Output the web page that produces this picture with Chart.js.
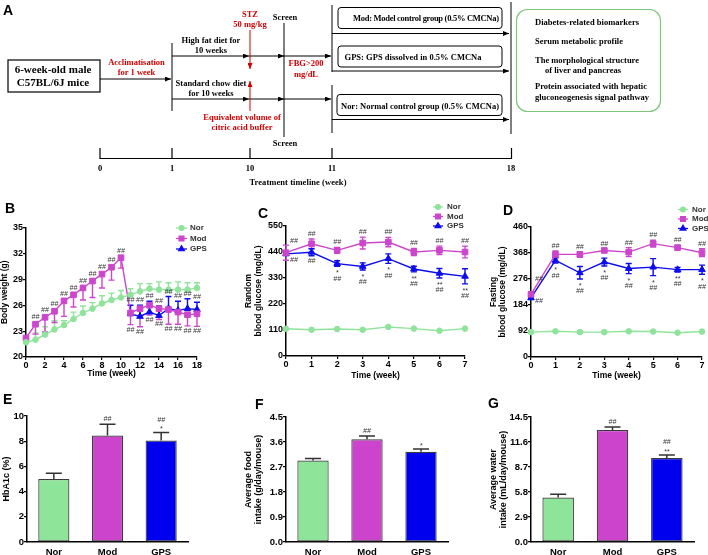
<!DOCTYPE html>
<html lang="en">
<head>
<meta charset="UTF-8" />
<title>GPS in diabetic mice</title>
<script src="https://cdn.jsdelivr.net/npm/chart.js"></script>
<style>
  body { margin: 0; width: 708px; height: 555px; position: relative; background: #fff; overflow: hidden; }
  canvas { position: absolute; }
  #art { position: absolute; left: 0; top: 0; pointer-events: none; }
</style>
</head>
<body>

<canvas id="chartB" width="235" height="190" style="left:0;top:190px"></canvas>
<canvas id="chartC" width="235" height="190" style="left:235px;top:190px"></canvas>
<canvas id="chartD" width="238" height="190" style="left:470px;top:190px"></canvas>
<canvas id="chartE" width="235" height="175" style="left:0;top:380px"></canvas>
<canvas id="chartF" width="235" height="175" style="left:235px;top:380px"></canvas>
<canvas id="chartG" width="238" height="175" style="left:470px;top:380px"></canvas>

<!-- Panel A (study design) + panel letters -->
<svg id="art" width="708" height="555" viewBox="0 0 708 555">
  <defs>
    <marker id="ah" markerUnits="userSpaceOnUse" markerWidth="6" markerHeight="5" refX="6" refY="2.5" orient="auto">
      <path d="M0,0 L6,2.5 L0,5 z" fill="#000"/>
    </marker>
    <marker id="ahr" markerUnits="userSpaceOnUse" markerWidth="6" markerHeight="5" refX="6" refY="2.5" orient="auto">
      <path d="M0,0 L6,2.5 L0,5 z" fill="#d00000"/>
    </marker>
  </defs>

  <g font-family="'Liberation Sans', Arial, sans-serif" font-weight="bold" font-size="14">
    <text x="3" y="15">A</text>
    <text x="5" y="213">B</text>
    <text x="258" y="218">C</text>
    <text x="503" y="215">D</text>
    <text x="3" y="404">E</text>
    <text x="255" y="409">F</text>
    <text x="488" y="408">G</text>
  </g>

  <g font-family="'Liberation Serif', 'Times New Roman', serif" font-weight="bold" font-size="8.5" text-anchor="middle" stroke-width="1">
    <rect x="8" y="60" width="92" height="32" fill="none" stroke="#000" stroke-width="1.2"/>
    <text x="53" y="73" font-size="11">6-week-old male</text>
    <text x="53" y="86" font-size="11">C57BL/6J mice</text>
    <line x1="100" y1="79" x2="171" y2="79" stroke="#000" marker-end="url(#ah)"/>
    <text x="136.5" y="65" fill="#d00000">Acclimatisation</text>
    <text x="136.5" y="75" fill="#d00000">for 1 week</text>

    <line x1="172" y1="43" x2="172" y2="111" stroke="#000"/>
    <line x1="172" y1="56" x2="249" y2="56" stroke="#000" marker-end="url(#ah)"/>
    <line x1="249" y1="56" x2="284" y2="56" stroke="#000" marker-end="url(#ah)"/>
    <line x1="284" y1="56" x2="331" y2="56" stroke="#000" marker-end="url(#ah)"/>
    <line x1="172" y1="99" x2="249" y2="99" stroke="#000" marker-end="url(#ah)"/>
    <line x1="249" y1="99" x2="284" y2="99" stroke="#000" marker-end="url(#ah)"/>
    <line x1="284" y1="99" x2="331" y2="99" stroke="#000" marker-end="url(#ah)"/>
    <text x="211" y="43">High fat diet for</text>
    <text x="211" y="53">10 weeks</text>
    <text x="211" y="86">Standard chow diet</text>
    <text x="211" y="96">for 10 weeks</text>

    <text x="250" y="16.5" fill="#d00000">STZ</text>
    <text x="250" y="27" fill="#d00000">50 mg/kg</text>
    <line x1="250" y1="30" x2="250" y2="69" stroke="#d00000" marker-end="url(#ahr)"/>
    <line x1="250" y1="111" x2="250" y2="81" stroke="#d00000" marker-end="url(#ahr)"/>
    <text x="242" y="120" fill="#d00000">Equivalent volume of</text>
    <text x="242" y="130" fill="#d00000">citric acid buffer</text>

    <text x="285" y="19.5">Screen</text>
    <line x1="284" y1="23" x2="284" y2="137" stroke="#000"/>
    <text x="285" y="145.5">Screen</text>
    <text x="306" y="66" fill="#d00000">FBG&gt;200</text>
    <text x="306" y="76.5" fill="#d00000">mg/dL</text>

    <line x1="332" y1="5" x2="332" y2="72" stroke="#000"/>
    <line x1="332" y1="85" x2="332" y2="133" stroke="#000"/>
    <rect x="338" y="7.5" width="164" height="21" rx="3" fill="none" stroke="#000"/>
    <text x="426" y="21" textLength="146">Mod: Model control group (0.5% CMCNa)</text>
    <line x1="332" y1="33.5" x2="509" y2="33.5" stroke="#000" marker-end="url(#ah)"/>
    <rect x="338" y="46" width="164" height="21" rx="3" fill="none" stroke="#000"/>
    <text x="413" y="60" textLength="137">GPS: GPS dissolved in 0.5% CMCNa</text>
    <line x1="332" y1="71" x2="509" y2="71" stroke="#000" marker-end="url(#ah)"/>
    <rect x="337" y="94.5" width="165" height="21" rx="3" fill="none" stroke="#000"/>
    <text x="420" y="108.5" textLength="158">Nor: Normal control group (0.5% CMCNa)</text>
    <line x1="332" y1="119.5" x2="509" y2="119.5" stroke="#000" marker-end="url(#ah)"/>
    <line x1="511" y1="2" x2="511" y2="134" stroke="#000"/>

    <rect x="516.5" y="9.5" width="144" height="102" rx="11" fill="none" stroke="#7cc77c" stroke-width="1.2"/>
    <g text-anchor="start">
      <text x="535" y="25" textLength="104">Diabetes-related biomarkers</text>
      <text x="535" y="44" textLength="88">Serum metabolic profile</text>
      <text x="535" y="62.5" textLength="104">The morphological structure</text>
      <text x="545" y="72.5" textLength="76">of liver and pancreas</text>
      <text x="535" y="89" textLength="112">Protein associated with hepatic</text>
      <text x="535" y="100" textLength="114">gluconeogenesis signal pathway</text>
    </g>

    <polyline points="100,148 100,158.5 511.5,158.5 511.5,148" fill="none" stroke="#000" stroke-width="1.2"/>
    <line x1="172" y1="148" x2="172" y2="158.5" stroke="#000" stroke-width="1.2"/>
    <line x1="250" y1="148" x2="250" y2="158.5" stroke="#000" stroke-width="1.2"/>
    <line x1="332" y1="148" x2="332" y2="158.5" stroke="#000" stroke-width="1.2"/>
    <text x="100" y="170.5">0</text>
    <text x="172" y="170.5">1</text>
    <text x="250" y="170.5">10</text>
    <text x="332" y="170.5">11</text>
    <text x="511" y="170.5">18</text>
    <text x="298" y="184.5" textLength="97">Treatment timeline (week)</text>
  </g>
</svg>

<script>
// ---- B: body weight (g), weeks 0-18 ----
const bWeeks = [0, 1, 2, 3, 4, 5, 6, 7, 8, 9, 10, 11, 12, 13, 14, 15, 16, 17, 18];
const bNor = [21.7, 22.0, 22.6, 23.2, 23.7, 24.4, 25.1, 25.6, 26.2, 26.6, 26.9, 27.2, 27.6, 27.9, 27.8, 27.8, 27.8, 27.8, 28.0];
const bNorErr = [0.5, 0.8, 0.9, 1.0, 0.5, 0.8, 0.8, 0.7, 0.9, 0.8, 0.8, 0.7, 0.9, 0.6, 0.9, 0.8, 0.9, 0.8, 0.6];
const bMod = [22.2, 23.8, 24.6, 25.3, 26.5, 27.2, 28.0, 28.8, 29.6, 30.4, 31.5, 25.1, 25.6, 26.0, 25.6, 25.5, 25.2, 24.9, 25.0];
const bModErr = [0.4, 1.15, 1.7, 1.3, 1.8, 1.4, 1.4, 1.9, 1.6, 1.5, 1.2, 1.35, 2.1, 1.15, 1.25, 1.7, 1.4, 1.3, 1.45];
const bGps = [null, null, null, null, null, null, null, null, null, null, null, 25.0, 24.7, 25.2, 24.8, 25.6, 25.4, 25.6, 25.5];
const bGpsErr = [0, 0, 0, 0, 0, 0, 0, 0, 0, 0, 0, 1.0, 1.3, 1.25, 1.1, 1.4, 1.05, 1.15, 0.85];
const bModAbove = ['', '##', '##', '##', '##', '##', '##', '##', '##', '##', '##', '', '', '', '', '', '', '', ''];
const bModBelow = ['', '', '', '', '', '', '', '', '', '', '', '##', '##', '##', '##', '##', '##', '##', '##'];
const bGpsAbove = ['', '', '', '', '', '', '', '', '', '', '', '##', '##', '##', '##', '##', '##', '##', '##'];
const bXTicks = [0, 2, 4, 6, 8, 10, 12, 14, 16, 18];
const bYTicks = [20, 23, 26, 29, 32, 35];

// ---- C: random blood glucose (mg/dL), weeks 0-7 ----
const cWeeks = [0, 1, 2, 3, 4, 5, 6, 7];
const cNor = [115, 111, 114, 111, 123, 116, 107, 116];
const cMod = [437, 475, 447, 478, 482, 440, 447, 440];
const cModErr = [32, 20, 12, 25, 20, 15, 18, 25];
const cGps = [432, 439, 391, 379, 412, 368, 350, 337];
const cGpsErr = [6, 15, 12, 15, 20, 12, 20, 32];
const cModAbove = ['', '##', '##', '##', '##', '##', '##', '##'];
const cGpsBelow = ['', '##', '*\n##', '*\n##', '*\n##', '**\n##', '**\n##', '**\n##'];
const cXTicks = [0, 1, 2, 3, 4, 5, 6, 7];
const cYTicks = [0, 110, 220, 330, 440, 550];

// ---- D: fasting blood glucose (mg/dL), weeks 0-7 ----
const dWeeks = [0, 1, 2, 3, 4, 5, 6, 7];
const dNor = [88, 91, 88, 88, 91, 90, 86, 90];
const dMod = [222, 363, 363, 377, 371, 401, 387, 369];
const dModErr = [8, 12, 10, 6, 16, 12, 8, 14];
const dGps = [209, 342, 298, 336, 313, 318, 309, 309];
const dGpsErr = [4, 10, 22, 14, 18, 30, 8, 16];
const dModAbove = ['', '##', '##', '##', '##', '##', '##', '##'];
const dGpsBelow = ['', '*\n##', '*\n##', '*\n##', '*\n##', '*\n##', '**\n##', '*\n##'];
const dXTicks = [0, 1, 2, 3, 4, 5, 6, 7];
const dYTicks = [0, 92, 184, 276, 368, 460];

// ---- E/F/G: bar panels ----
const groups = ['Nor', 'Mod', 'GPS'];
const eMeans = [5.0, 8.45, 8.05];
const eErr = [0.45, 0.9, 0.65];
const eMarks = ['', '##', '##\n*'];
const eTicks = [0, 2, 4, 6, 8, 10];
const fMeans = [2.93, 3.70, 3.25];
const fErr = [0.08, 0.12, 0.10];
const fMarks = ['', '##', '*'];
const fTicks = [0, 0.9, 1.8, 2.7, 3.6, 4.5];
const gMeans = [5.15, 13.0, 9.75];
const gErr = [0.4, 0.35, 0.35];
const gMarks = ['', '##', '##\n**'];
const gTicks = [0, 2.9, 5.8, 8.7, 11.6, 14.5];

const FONT = "'Liberation Sans', Arial, sans-serif";
const GREEN = '#8fe39b', MAGENTA = '#cc46cc', BLUE = '#0c0cee';

const legendPos = {
  chartB: { x: 176, y: 38, dy: 10.5, len: 11, tx: 190 },
  chartC: { x: 198, y: 17, dy: 9.5, len: 10, tx: 212 },
  chartD: { x: 208, y: 19.5, dy: 9.5, len: 10, tx: 222 }
};

function valueAt(ds, i) {
  const d = ds.data[i];
  if (d === null || d === undefined) return null;
  return typeof d === 'object' ? d.y : d;
}

function drawErrors(chart) {
  const ctx = chart.ctx, ys = chart.scales.y;
  chart.data.datasets.forEach((ds, di) => {
    if (!ds.errors) return;
    const meta = chart.getDatasetMeta(di);
    ctx.save();
    ctx.strokeStyle = ds.errColor || ds.borderColor;
    ctx.lineWidth = ds.errWidth || 1.4;
    meta.data.forEach((el, i) => {
      const v = valueAt(ds, i), e = ds.errors[i];
      if (v === null || !e) return;
      const dir = Array.isArray(ds.errDir) ? ds.errDir[i] : ds.errDir;
      const x = el.x, cap = ds.capHalf || 3;
      let top = ys.getPixelForValue(v), bot = top;
      if (dir !== 'down') top = ys.getPixelForValue(v + e);
      if (dir !== 'up' && chart.config.type !== 'bar') bot = ys.getPixelForValue(v - e);
      if (chart.config.type === 'bar') bot = el.y;
      ctx.beginPath();
      ctx.moveTo(x, top); ctx.lineTo(x, bot);
      if (dir !== 'down') { ctx.moveTo(x - cap, top); ctx.lineTo(x + cap, top); }
      if (dir !== 'up' && chart.config.type !== 'bar') { ctx.moveTo(x - cap, bot); ctx.lineTo(x + cap, bot); }
      ctx.stroke();
    });
    ctx.restore();
  });
}

function drawMarks(chart) {
  const ctx = chart.ctx, ys = chart.scales.y;
  ctx.save();
  ctx.font = 'italic 7px ' + FONT;
  ctx.fillStyle = '#333';
  ctx.textAlign = 'center';
  ctx.textBaseline = 'middle';
  chart.data.datasets.forEach((ds, di) => {
    const meta = chart.getDatasetMeta(di);
    meta.data.forEach((el, i) => {
      const v = valueAt(ds, i);
      if (v === null) return;
      const e = ds.errors ? ds.errors[i] || 0 : 0;
      const dir = Array.isArray(ds.errDir) ? ds.errDir[i] : ds.errDir;
      const p = ys.getPixelForValue(v);
      if (ds.marksAbove && ds.marksAbove[i]) {
        const top = (dir !== 'down' && e) ? ys.getPixelForValue(v + e) : p - 2;
        const lines = ds.marksAbove[i].split('\n');
        lines.forEach((t, k) => {
          ctx.fillText(t, el.x, top - 5 - (lines.length - 1 - k) * 7.5 + (t[0] === '*' ? 2 : 0));
        });
      }
      if (ds.marksBelow && ds.marksBelow[i]) {
        const bot = (dir !== 'up' && e) ? ys.getPixelForValue(v - e) : p + 2;
        ds.marksBelow[i].split('\n').forEach((t, k) => {
          ctx.fillText(t, el.x, bot + 5 + k * 7.5 + (t[0] === '*' ? 2 : 0));
        });
      }
      if (ds.marksSide && ds.marksSide[i]) {
        ctx.textAlign = 'left';
        ctx.fillText(ds.marksSide[i], el.x + 4, p + ds.sideDy);
        ctx.textAlign = 'center';
      }
    });
  });
  ctx.restore();
}

function drawLegend(chart) {
  const pos = legendPos[chart.canvas.id];
  if (!pos) return;
  const ctx = chart.ctx;
  ctx.save();
  chart.data.datasets.forEach((ds, i) => {
    const y = pos.y + i * pos.dy;
    ctx.strokeStyle = ds.borderColor;
    ctx.fillStyle = ds.borderColor;
    ctx.lineWidth = 1.3;
    ctx.beginPath();
    ctx.moveTo(pos.x, y); ctx.lineTo(pos.x + pos.len, y);
    ctx.stroke();
    Chart.helpers.drawPoint(ctx, { pointStyle: ds.pointStyle, rotation: 0, radius: ds.pointRadius * 0.85, borderWidth: 1 }, pos.x + pos.len / 2, y);
    ctx.fillStyle = '#333';
    ctx.font = 'bold 8px ' + FONT;
    ctx.textAlign = 'left';
    ctx.textBaseline = 'middle';
    ctx.fillText(ds.label, pos.tx, y);
  });
  ctx.restore();
}

const extras = {
  id: 'extras',
  beforeDatasetsDraw(chart) { if (chart.config.type === 'line') drawErrors(chart); },
  afterDatasetsDraw(chart) {
    if (chart.config.type === 'bar') drawErrors(chart);
    drawMarks(chart);
    drawLegend(chart);
  }
};

function yAxis(o) {
  return {
    min: o.yTicks[0], max: o.yTicks[o.yTicks.length - 1],
    afterFit(scale) { scale.width = o.yWidth; },
    afterBuildTicks(scale) { scale.ticks = o.yTicks.map(v => ({ value: v })); },
    grid: { drawOnChartArea: false, tickLength: 3, color: '#000', lineWidth: 1.2 },
    border: { color: '#000', width: 1.5 },
    ticks: {
      color: '#000', padding: 0,
      font: { family: FONT, size: o.tickSize, weight: 'bold' },
      callback: v => o.yDecimals ? v.toFixed(o.yDecimals) : String(v)
    },
    title: {
      display: true, text: o.yTitle, color: '#000',
      padding: { top: o.yTitlePad, bottom: 0 },
      font: { family: FONT, size: o.titleSize, weight: 'bold', lineHeight: 1.1 }
    }
  };
}

function series(label, weeks, values, errs, style) {
  return Object.assign({
    label: label,
    data: weeks.map((w, i) => ({ x: w, y: values[i] })),
    errors: errs,
    borderWidth: 1.4,
    pointBorderWidth: 1,
    clip: false,
    spanGaps: false
  }, style);
}

const norStyle = { borderColor: GREEN, backgroundColor: GREEN, pointBackgroundColor: GREEN, pointStyle: 'circle', pointRadius: 2.8 };
const modStyle = { borderColor: MAGENTA, backgroundColor: MAGENTA, pointBackgroundColor: MAGENTA, pointStyle: 'rect', pointRadius: 4 };
const gpsStyle = { borderColor: BLUE, backgroundColor: BLUE, pointBackgroundColor: BLUE, pointStyle: 'triangle', pointRadius: 3.8 };

function lineChart(id, o) {
  return new Chart(document.getElementById(id), {
    type: 'line',
    data: { datasets: o.datasets },
    options: {
      responsive: false, animation: false, devicePixelRatio: 1,
      layout: { padding: o.padding },
      plugins: { legend: { display: false }, tooltip: { enabled: false } },
      scales: {
        x: {
          type: 'linear', min: o.xTicks[0], max: o.xTicks[o.xTicks.length - 1],
          afterFit(scale) { scale.height = o.xHeight; },
          afterBuildTicks(scale) { scale.ticks = o.xTicks.map(v => ({ value: v })); },
          grid: { drawOnChartArea: false, tickLength: 3, color: '#000', lineWidth: 1.2 },
          border: { color: '#000', width: 1.5 },
          ticks: { color: '#000', padding: 0, maxRotation: 0, font: { family: FONT, size: 9, weight: 'bold' } },
          title: {
            display: true, text: 'Time (week)', color: '#000',
            padding: { top: 0, bottom: o.xTitlePad },
            font: { family: FONT, size: 8.5, weight: 'bold', lineHeight: 1.1 }
          }
        },
        y: yAxis(o)
      }
    },
    plugins: [extras]
  });
}

function barChart(id, o) {
  return new Chart(document.getElementById(id), {
    type: 'bar',
    data: {
      labels: groups,
      datasets: [{
        data: o.means,
        errors: o.errs,
        errDir: 'up',
        errColor: '#333',
        errWidth: 1.5,
        capHalf: 8,
        marksAbove: o.marks,
        backgroundColor: ['#8ee59a', '#cc44cc', '#0000ee'],
        borderColor: '#3a3a3a',
        borderWidth: 1.2,
        borderSkipped: false,
        barPercentage: 0.58,
        categoryPercentage: 1
      }]
    },
    options: {
      responsive: false, animation: false, devicePixelRatio: 1,
      layout: { padding: o.padding },
      plugins: { legend: { display: false }, tooltip: { enabled: false } },
      scales: {
        x: {
          afterFit(scale) { scale.height = 13; },
          grid: { display: false, drawTicks: false },
          border: { color: '#000', width: 1.5 },
          ticks: { color: '#000', padding: 5, autoSkip: false, maxRotation: 0, font: { family: FONT, size: 9.5, weight: 'bold' } }
        },
        y: yAxis(o)
      }
    },
    plugins: [extras]
  });
}

lineChart('chartB', {
  padding: { left: 0, top: 37.5, right: 38, bottom: 0 },
  yWidth: 26, xHeight: 23, xTitlePad: 1.3,
  xTicks: bXTicks, yTicks: bYTicks,
  yTitle: 'Body weight (g)', yTitlePad: 0.3, tickSize: 9, titleSize: 8.5,
  datasets: [
    series('Nor', bWeeks, bNor, bNorErr, Object.assign({ errDir: 'up' }, norStyle)),
    series('Mod', bWeeks, bMod, bModErr, Object.assign({ errDir: 'down', marksAbove: bModAbove, marksBelow: bModBelow }, modStyle)),
    series('GPS', bWeeks, bGps, bGpsErr, Object.assign({ errDir: 'up', marksAbove: bGpsAbove }, gpsStyle))
  ]
});

lineChart('chartC', {
  padding: { left: 0, top: 36, right: 4, bottom: 0 },
  yWidth: 51, xHeight: 24, xTitlePad: 0,
  xTicks: cXTicks, yTicks: cYTicks,
  yTitle: ['Random', 'blood glucose (mg/dL)'], yTitlePad: 9.3, tickSize: 9, titleSize: 8.5,
  datasets: [
    series('Nor', cWeeks, cNor, null, norStyle),
    series('Mod', cWeeks, cMod, cModErr, Object.assign({ errDir: 'both', marksAbove: cModAbove, marksSide: ['##'], sideDy: -12 }, modStyle)),
    series('GPS', cWeeks, cGps, cGpsErr, Object.assign({ errDir: 'both', marksBelow: cGpsBelow, marksSide: ['##'], sideDy: 6 }, gpsStyle))
  ]
});

lineChart('chartD', {
  padding: { left: 0, top: 37, right: 6, bottom: 0 },
  yWidth: 61, xHeight: 23, xTitlePad: 0,
  xTicks: dXTicks, yTicks: dYTicks,
  yTitle: ['Fasting', 'blood glucose (mg/dL)'], yTitlePad: 18.8, tickSize: 9, titleSize: 8.5,
  datasets: [
    series('Nor', dWeeks, dNor, null, norStyle),
    series('Mod', dWeeks, dMod, dModErr, Object.assign({ errDir: 'both', marksAbove: dModAbove, marksSide: ['##'], sideDy: -15 }, modStyle)),
    series('GPS', dWeeks, dGps, dGpsErr, Object.assign({ errDir: 'both', marksBelow: dGpsBelow, marksSide: ['##'], sideDy: 3 }, gpsStyle))
  ]
});

barChart('chartE', {
  padding: { left: 0, top: 36, right: 47, bottom: 0 },
  yWidth: 27, means: eMeans, errs: eErr, marks: eMarks,
  yTicks: eTicks, yTitle: 'HbA1c (%)', yTitlePad: 1.5, tickSize: 9.5, titleSize: 9
});

barChart('chartF', {
  padding: { left: 0, top: 37, right: 22, bottom: 0 },
  yWidth: 51, means: fMeans, errs: fErr, marks: fMarks, yDecimals: 1,
  yTicks: fTicks, yTitle: ['Average food', 'intake (g/day/mouse)'], yTitlePad: 8.5, tickSize: 9.5, titleSize: 9
});

barChart('chartG', {
  padding: { left: 0, top: 37, right: 14, bottom: 0 },
  yWidth: 61, means: gMeans, errs: gErr, marks: gMarks, yDecimals: 1,
  yTicks: gTicks, yTitle: ['Average water', 'intake (mL/day/mouse)'], yTitlePad: 18.5, tickSize: 9.5, titleSize: 9
});
</script>
</body>
</html>
